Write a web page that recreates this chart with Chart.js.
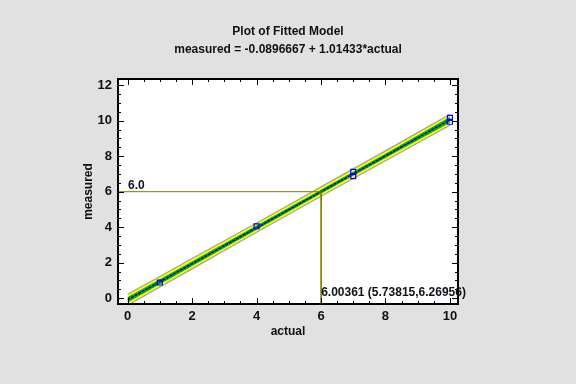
<!DOCTYPE html>
<html>
<head>
<meta charset="utf-8">
<script src="https://cdn.jsdelivr.net/npm/chart.js@4.4.1/dist/chart.umd.min.js"></script>
<style>
  html, body { margin: 0; padding: 0; background: #e1e1e1; }
  #wrap { width: 576px; height: 384px; }
</style>
</head>
<body>
<div id="wrap"><canvas id="fit"></canvas></div>
<script>
// values
const bandX      = [0, 2, 4, 6, 8, 10];
const fitted     = [-0.09, 1.94, 3.97, 6.00, 8.02, 10.05];
const predUpper  = [0.22, 2.23, 4.24, 6.27, 8.30, 10.36];
const predLower  = [-0.40, 1.65, 3.71, 5.74, 7.74, 9.74];
const confUpper  = [0.03, 2.04, 4.06, 6.08, 8.11, 10.18];
const confLower  = [-0.21, 1.84, 3.88, 5.92, 7.93, 9.92];

const obsX = [1, 4, 7, 7, 10, 10];
const obsY = [0.88, 4.05, 6.88, 7.12, 9.94, 10.16];

const refY = 6.0;
const refX = 6.00361;
const refLabel = '6.0';
const invLabel = '6.00361 (5.73815,6.26956)';

const xMajor = [0, 2, 4, 6, 8, 10];
const yMajor = [0, 2, 4, 6, 8, 10, 12];
const X_MIN = -0.3, X_MAX = 10.25;
const Y_MIN = -0.33, Y_MAX = 12.35;

const FONT = "'Liberation Sans', Arial, sans-serif";
const TEXT = '#101018';
const OLIVE = '#808000';

const pts = (xs, ys) => xs.map((x, i) => ({ x, y: ys[i] }));

function halfSteps(lo, hi) {
  const out = [];
  for (let v = lo; v <= hi + 1e-9; v += 0.5) out.push(+v.toFixed(1));
  return out;
}

// frame with inward ticks, plus the two annotation texts
const framePlugin = {
  id: 'frame',
  afterDatasetsDraw(chart) {
    const { ctx, chartArea: a, scales: { x, y } } = chart;
    ctx.save();
    ctx.strokeStyle = '#000';
    ctx.lineWidth = 2;
    ctx.strokeRect(a.left, a.top, a.right - a.left, a.bottom - a.top);
    ctx.lineWidth = 1;
    ctx.beginPath();
    halfSteps(0, 10).forEach(v => {
      const px = Math.round(x.getPixelForValue(v)) + 0.5;
      const len = xMajor.includes(v) ? 6 : 3;
      ctx.moveTo(px, a.bottom); ctx.lineTo(px, a.bottom - len);
      ctx.moveTo(px, a.top); ctx.lineTo(px, a.top + len);
    });
    halfSteps(0, 12).forEach(v => {
      const py = Math.round(y.getPixelForValue(v)) + 0.5;
      const len = yMajor.includes(v) ? 6 : 3;
      ctx.moveTo(a.left, py); ctx.lineTo(a.left + len, py);
      ctx.moveTo(a.right, py); ctx.lineTo(a.right - len, py);
    });
    ctx.stroke();

    ctx.fillStyle = TEXT;
    ctx.font = 'bold 12px ' + FONT;
    ctx.textAlign = 'left';
    ctx.textBaseline = 'alphabetic';
    ctx.fillText(refLabel, a.left + 10, y.getPixelForValue(refY) - 3);
    ctx.fillText(invLabel, x.getPixelForValue(refX), a.bottom - 8);
    ctx.restore();
  }
};

new Chart(document.getElementById('fit'), {
  type: 'line',
  data: {
    datasets: [
      { data: pts(bandX, predUpper), borderColor: '#a0a0a0', borderWidth: 1.2, order: 6,
        backgroundColor: '#ffff00', fill: '+1', pointRadius: 0, tension: 0.3 },
      { data: pts(bandX, predLower), borderColor: '#a0a0a0', borderWidth: 1.2, order: 5,
        pointRadius: 0, fill: false, tension: 0.3 },
      { data: pts(bandX, confUpper), borderColor: '#00b000', borderWidth: 1, order: 4,
        backgroundColor: '#00b000', fill: '+1', pointRadius: 0, tension: 0.3 },
      { data: pts(bandX, confLower), borderColor: '#00b000', borderWidth: 1, order: 3,
        pointRadius: 0, fill: false, tension: 0.3 },
      { data: pts(bandX, fitted), borderColor: '#0000ff', borderWidth: 1.4, order: 2,
        pointRadius: 0, fill: false, borderDash: [3, 1] },
      { data: pts(obsX, obsY), showLine: false, pointStyle: 'rect', order: 1,
        pointRadius: 3.5, borderColor: '#0000ff', borderWidth: 1.2,
        backgroundColor: 'rgba(0,0,0,0)' },
      { data: [{ x: X_MIN, y: refY }, { x: refX, y: refY }, { x: refX, y: Y_MIN }],
        borderColor: OLIVE, borderWidth: 1, pointRadius: 0, fill: false, order: 0 }
    ]
  },
  options: {
    responsive: true,
    maintainAspectRatio: false,
    animation: false,
    layout: { padding: 0 },
    plugins: {
      legend: { display: false },
      tooltip: { enabled: false },
      title: {
        display: true,
        text: ['Plot of Fitted Model', 'measured = -0.0896667 + 1.01433*actual'],
        color: TEXT,
        font: { family: FONT, size: 12, weight: 'bold', lineHeight: 1.5 },
        padding: { top: 23, bottom: 20 }
      }
    },
    scales: {
      x: {
        type: 'linear',
        min: X_MIN, max: X_MAX,
        afterBuildTicks: s => { s.ticks = xMajor.map(v => ({ value: v })); },
        afterFit: s => { s.height = 80; },
        grid: { display: false, drawTicks: false },
        border: { display: false },
        ticks: { color: TEXT, padding: 5, font: { family: FONT, size: 13, weight: 'bold' } },
        title: { display: true, text: 'actual', color: TEXT,
                 font: { family: FONT, size: 12, weight: 'bold' },
                 padding: { top: 0, bottom: 45 } }
      },
      y: {
        min: Y_MIN, max: Y_MAX,
        afterBuildTicks: s => { s.ticks = yMajor.map(v => ({ value: v })); },
        afterFit: s => { s.width = 118; },
        grid: { display: false, drawTicks: false },
        border: { display: false },
        ticks: { color: TEXT, padding: 6, font: { family: FONT, size: 13, weight: 'bold' } },
        title: { display: true, text: 'measured', color: TEXT,
                 font: { family: FONT, size: 12, weight: 'bold' },
                 padding: { top: 81, bottom: 0 } }
      },
      y2: {
        position: 'right',
        min: Y_MIN, max: Y_MAX,
        afterFit: s => { s.width = 118; },
        grid: { display: false, drawTicks: false },
        border: { display: false },
        ticks: { display: false }
      }
    }
  },
  plugins: [framePlugin, {
    id: 'plotBg',
    beforeDraw(chart) {
      const { ctx, chartArea: a } = chart;
      ctx.save();
      ctx.fillStyle = '#ffffff';
      ctx.fillRect(a.left, a.top, a.right - a.left, a.bottom - a.top);
      ctx.restore();
    }
  }]
});
</script>
</body>
</html>
